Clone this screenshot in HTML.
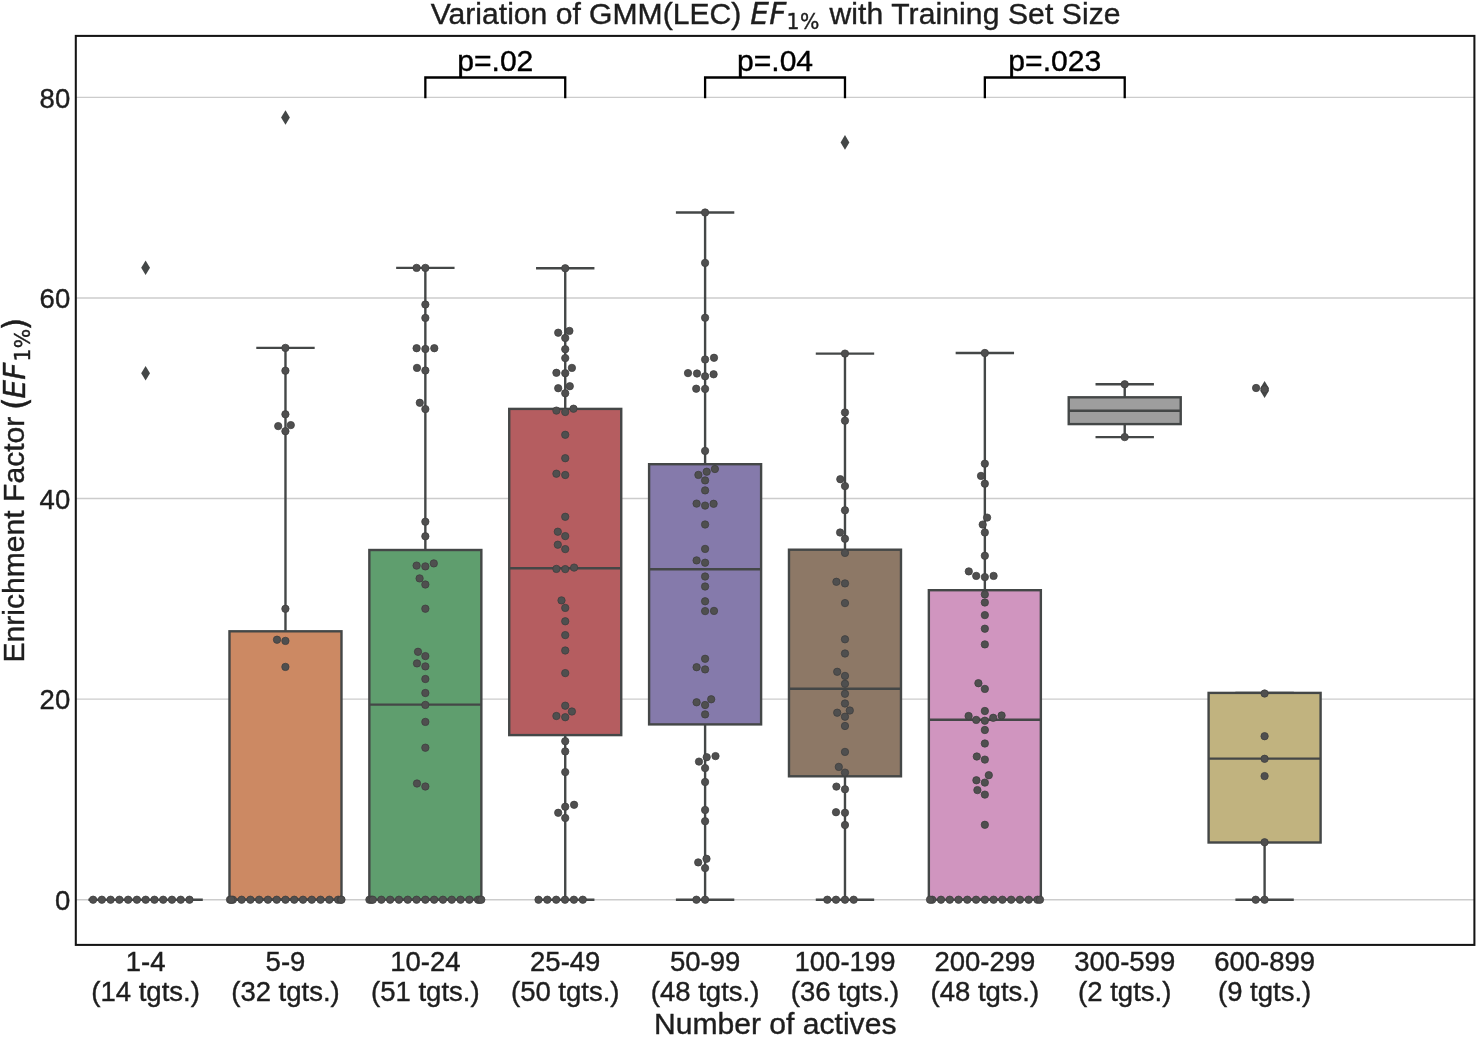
<!DOCTYPE html>
<html lang="en"><head><meta charset="utf-8"><title>Variation of GMM(LEC) EF1% with Training Set Size</title>
<style>html,body{margin:0;padding:0;background:#fff}svg{display:block}text{stroke-width:.4px}</style></head>
<body>
<svg width="1476" height="1037" viewBox="0 0 1476 1037" font-family="'Liberation Sans', sans-serif">
<rect width="1476" height="1037" fill="#fff"/>
<line x1="75.8" x2="1474.4" y1="899.70" y2="899.70" stroke="#cccccc" stroke-width="1.35"/>
<line x1="75.8" x2="1474.4" y1="699.12" y2="699.12" stroke="#cccccc" stroke-width="1.35"/>
<line x1="75.8" x2="1474.4" y1="498.54" y2="498.54" stroke="#cccccc" stroke-width="1.35"/>
<line x1="75.8" x2="1474.4" y1="297.96" y2="297.96" stroke="#cccccc" stroke-width="1.35"/>
<line x1="75.8" x2="1474.4" y1="97.38" y2="97.38" stroke="#cccccc" stroke-width="1.35"/>
<g stroke="#444747" stroke-width="2.4" fill="none">
<line x1="89.60" x2="201.60" y1="899.70" y2="899.70" stroke-linecap="square"/>
<rect x="229.48" y="631.30" width="112" height="268.40" fill="#cc8963" stroke-linejoin="miter"/>
<line x1="285.48" x2="285.48" y1="347.90" y2="631.30"/>
<line x1="257.48" x2="313.48" y1="347.90" y2="347.90" stroke-linecap="square"/>
<line x1="257.48" x2="313.48" y1="899.70" y2="899.70" stroke-linecap="square"/>
<line x1="229.48" x2="341.48" y1="899.70" y2="899.70"/>
<rect x="369.35" y="550.00" width="112" height="349.70" fill="#5f9e6e" stroke-linejoin="miter"/>
<line x1="425.35" x2="425.35" y1="267.90" y2="550.00"/>
<line x1="397.35" x2="453.35" y1="267.90" y2="267.90" stroke-linecap="square"/>
<line x1="397.35" x2="453.35" y1="899.70" y2="899.70" stroke-linecap="square"/>
<line x1="369.35" x2="481.35" y1="704.60" y2="704.60"/>
<rect x="509.23" y="408.90" width="112" height="326.20" fill="#b55d60" stroke-linejoin="miter"/>
<line x1="565.23" x2="565.23" y1="268.30" y2="408.90"/>
<line x1="565.23" x2="565.23" y1="735.10" y2="899.70"/>
<line x1="537.23" x2="593.23" y1="268.30" y2="268.30" stroke-linecap="square"/>
<line x1="537.23" x2="593.23" y1="899.70" y2="899.70" stroke-linecap="square"/>
<line x1="509.23" x2="621.23" y1="568.30" y2="568.30"/>
<rect x="649.10" y="464.20" width="112" height="260.20" fill="#857aab" stroke-linejoin="miter"/>
<line x1="705.10" x2="705.10" y1="212.50" y2="464.20"/>
<line x1="705.10" x2="705.10" y1="724.40" y2="899.70"/>
<line x1="677.10" x2="733.10" y1="212.50" y2="212.50" stroke-linecap="square"/>
<line x1="677.10" x2="733.10" y1="899.70" y2="899.70" stroke-linecap="square"/>
<line x1="649.10" x2="761.10" y1="569.20" y2="569.20"/>
<rect x="788.98" y="549.70" width="112" height="226.60" fill="#8d7866" stroke-linejoin="miter"/>
<line x1="844.98" x2="844.98" y1="353.60" y2="549.70"/>
<line x1="844.98" x2="844.98" y1="776.30" y2="899.70"/>
<line x1="816.98" x2="872.98" y1="353.60" y2="353.60" stroke-linecap="square"/>
<line x1="816.98" x2="872.98" y1="899.70" y2="899.70" stroke-linecap="square"/>
<line x1="788.98" x2="900.98" y1="688.70" y2="688.70"/>
<rect x="928.85" y="590.20" width="112" height="309.50" fill="#d095bf" stroke-linejoin="miter"/>
<line x1="984.85" x2="984.85" y1="353.00" y2="590.20"/>
<line x1="956.85" x2="1012.85" y1="353.00" y2="353.00" stroke-linecap="square"/>
<line x1="956.85" x2="1012.85" y1="899.70" y2="899.70" stroke-linecap="square"/>
<line x1="928.85" x2="1040.85" y1="719.80" y2="719.80"/>
<rect x="1068.72" y="397.30" width="112" height="26.80" fill="#9e9e9e" stroke-linejoin="miter"/>
<line x1="1124.72" x2="1124.72" y1="384.30" y2="397.30"/>
<line x1="1124.72" x2="1124.72" y1="424.10" y2="437.10"/>
<line x1="1096.72" x2="1152.72" y1="384.30" y2="384.30" stroke-linecap="square"/>
<line x1="1096.72" x2="1152.72" y1="437.10" y2="437.10" stroke-linecap="square"/>
<line x1="1068.72" x2="1180.72" y1="410.70" y2="410.70"/>
<rect x="1208.60" y="692.90" width="112" height="149.60" fill="#c1b37f" stroke-linejoin="miter"/>
<line x1="1264.60" x2="1264.60" y1="842.50" y2="899.70"/>
<line x1="1236.60" x2="1292.60" y1="692.90" y2="692.90" stroke-linecap="square"/>
<line x1="1236.60" x2="1292.60" y1="899.70" y2="899.70" stroke-linecap="square"/>
<line x1="1208.60" x2="1320.60" y1="758.60" y2="758.60"/>
</g>
<g fill="#444747">
<path d="M145.60 260.50L150.00 267.80L145.60 275.10L141.20 267.80Z"/>
<path d="M145.60 366.00L150.00 373.30L145.60 380.60L141.20 373.30Z"/>
<path d="M285.48 110.20L289.88 117.50L285.48 124.80L281.08 117.50Z"/>
<path d="M844.98 135.10L849.38 142.40L844.98 149.70L840.58 142.40Z"/>
<path d="M1264.60 380.90L1269.00 388.20L1264.60 395.50L1260.20 388.20Z"/>
<path d="M1264.60 383.40L1269.00 390.70L1264.60 398.00L1260.20 390.70Z"/>
</g>
<g fill="#4f4f4f" stroke="#3e3e3e" stroke-width="0.75">
<circle cx="93.10" cy="899.70" r="3.68"/>
<circle cx="101.86" cy="899.70" r="3.68"/>
<circle cx="110.63" cy="899.70" r="3.68"/>
<circle cx="119.39" cy="899.70" r="3.68"/>
<circle cx="128.15" cy="899.70" r="3.68"/>
<circle cx="136.91" cy="899.70" r="3.68"/>
<circle cx="145.68" cy="899.70" r="3.68"/>
<circle cx="154.44" cy="899.70" r="3.68"/>
<circle cx="163.20" cy="899.70" r="3.68"/>
<circle cx="171.97" cy="899.70" r="3.68"/>
<circle cx="180.73" cy="899.70" r="3.68"/>
<circle cx="189.49" cy="899.70" r="3.68"/>
<circle cx="232.86" cy="899.70" r="3.68"/>
<circle cx="241.63" cy="899.70" r="3.68"/>
<circle cx="250.40" cy="899.70" r="3.68"/>
<circle cx="259.17" cy="899.70" r="3.68"/>
<circle cx="267.94" cy="899.70" r="3.68"/>
<circle cx="276.71" cy="899.70" r="3.68"/>
<circle cx="285.48" cy="899.70" r="3.68"/>
<circle cx="294.25" cy="899.70" r="3.68"/>
<circle cx="303.02" cy="899.70" r="3.68"/>
<circle cx="311.79" cy="899.70" r="3.68"/>
<circle cx="320.56" cy="899.70" r="3.68"/>
<circle cx="329.33" cy="899.70" r="3.68"/>
<circle cx="338.10" cy="899.70" r="3.68"/>
<circle cx="230.00" cy="899.70" r="3.68"/>
<circle cx="231.30" cy="899.70" r="3.68"/>
<circle cx="340.70" cy="899.70" r="3.68"/>
<circle cx="341.50" cy="899.70" r="3.68"/>
<circle cx="285.40" cy="347.90" r="3.68"/>
<circle cx="285.40" cy="370.70" r="3.68"/>
<circle cx="285.40" cy="414.30" r="3.68"/>
<circle cx="278.20" cy="426.10" r="3.68"/>
<circle cx="290.80" cy="425.10" r="3.68"/>
<circle cx="285.40" cy="431.20" r="3.68"/>
<circle cx="285.40" cy="608.80" r="3.68"/>
<circle cx="277.00" cy="639.70" r="3.68"/>
<circle cx="285.40" cy="640.90" r="3.68"/>
<circle cx="285.40" cy="666.90" r="3.68"/>
<circle cx="381.35" cy="899.70" r="3.68"/>
<circle cx="390.15" cy="899.70" r="3.68"/>
<circle cx="398.95" cy="899.70" r="3.68"/>
<circle cx="407.75" cy="899.70" r="3.68"/>
<circle cx="416.55" cy="899.70" r="3.68"/>
<circle cx="425.35" cy="899.70" r="3.68"/>
<circle cx="434.15" cy="899.70" r="3.68"/>
<circle cx="442.95" cy="899.70" r="3.68"/>
<circle cx="451.75" cy="899.70" r="3.68"/>
<circle cx="460.55" cy="899.70" r="3.68"/>
<circle cx="469.35" cy="899.70" r="3.68"/>
<circle cx="369.40" cy="899.70" r="3.68"/>
<circle cx="371.30" cy="899.70" r="3.68"/>
<circle cx="372.80" cy="899.70" r="3.68"/>
<circle cx="478.00" cy="899.70" r="3.68"/>
<circle cx="479.60" cy="899.70" r="3.68"/>
<circle cx="481.30" cy="899.70" r="3.68"/>
<circle cx="416.60" cy="267.90" r="3.68"/>
<circle cx="425.35" cy="267.90" r="3.68"/>
<circle cx="425.35" cy="304.50" r="3.68"/>
<circle cx="425.35" cy="317.90" r="3.68"/>
<circle cx="416.60" cy="348.20" r="3.68"/>
<circle cx="425.35" cy="349.00" r="3.68"/>
<circle cx="434.30" cy="348.20" r="3.68"/>
<circle cx="417.00" cy="367.90" r="3.68"/>
<circle cx="425.35" cy="370.50" r="3.68"/>
<circle cx="419.80" cy="402.80" r="3.68"/>
<circle cx="425.35" cy="409.10" r="3.68"/>
<circle cx="425.35" cy="521.70" r="3.68"/>
<circle cx="425.35" cy="536.30" r="3.68"/>
<circle cx="416.60" cy="565.60" r="3.68"/>
<circle cx="425.35" cy="566.40" r="3.68"/>
<circle cx="433.80" cy="563.40" r="3.68"/>
<circle cx="419.60" cy="578.40" r="3.68"/>
<circle cx="425.35" cy="584.50" r="3.68"/>
<circle cx="425.35" cy="608.70" r="3.68"/>
<circle cx="418.00" cy="651.80" r="3.68"/>
<circle cx="425.35" cy="656.10" r="3.68"/>
<circle cx="417.00" cy="663.40" r="3.68"/>
<circle cx="425.35" cy="666.40" r="3.68"/>
<circle cx="425.35" cy="679.00" r="3.68"/>
<circle cx="425.35" cy="693.00" r="3.68"/>
<circle cx="425.35" cy="704.90" r="3.68"/>
<circle cx="425.35" cy="721.90" r="3.68"/>
<circle cx="425.35" cy="747.70" r="3.68"/>
<circle cx="417.00" cy="783.50" r="3.68"/>
<circle cx="425.35" cy="786.50" r="3.68"/>
<circle cx="538.50" cy="899.70" r="3.68"/>
<circle cx="547.30" cy="899.70" r="3.68"/>
<circle cx="556.20" cy="899.70" r="3.68"/>
<circle cx="565.00" cy="899.70" r="3.68"/>
<circle cx="573.90" cy="899.70" r="3.68"/>
<circle cx="582.80" cy="899.70" r="3.68"/>
<circle cx="565.23" cy="268.30" r="3.68"/>
<circle cx="558.20" cy="332.70" r="3.68"/>
<circle cx="569.40" cy="330.90" r="3.68"/>
<circle cx="565.23" cy="338.00" r="3.68"/>
<circle cx="565.23" cy="349.20" r="3.68"/>
<circle cx="565.23" cy="358.10" r="3.68"/>
<circle cx="571.90" cy="367.90" r="3.68"/>
<circle cx="556.40" cy="372.80" r="3.68"/>
<circle cx="565.23" cy="373.20" r="3.68"/>
<circle cx="558.20" cy="388.20" r="3.68"/>
<circle cx="569.80" cy="386.20" r="3.68"/>
<circle cx="565.23" cy="393.30" r="3.68"/>
<circle cx="556.40" cy="410.60" r="3.68"/>
<circle cx="565.23" cy="412.00" r="3.68"/>
<circle cx="573.50" cy="408.70" r="3.68"/>
<circle cx="565.23" cy="434.80" r="3.68"/>
<circle cx="565.23" cy="458.20" r="3.68"/>
<circle cx="556.40" cy="473.70" r="3.68"/>
<circle cx="565.23" cy="475.00" r="3.68"/>
<circle cx="565.23" cy="516.80" r="3.68"/>
<circle cx="557.80" cy="531.70" r="3.68"/>
<circle cx="565.23" cy="536.10" r="3.68"/>
<circle cx="557.80" cy="544.70" r="3.68"/>
<circle cx="565.23" cy="549.10" r="3.68"/>
<circle cx="556.40" cy="568.90" r="3.68"/>
<circle cx="565.23" cy="569.10" r="3.68"/>
<circle cx="574.10" cy="567.60" r="3.68"/>
<circle cx="561.50" cy="600.40" r="3.68"/>
<circle cx="565.23" cy="607.90" r="3.68"/>
<circle cx="565.23" cy="621.30" r="3.68"/>
<circle cx="565.23" cy="635.10" r="3.68"/>
<circle cx="565.23" cy="650.50" r="3.68"/>
<circle cx="565.23" cy="673.10" r="3.68"/>
<circle cx="565.23" cy="705.70" r="3.68"/>
<circle cx="571.90" cy="711.50" r="3.68"/>
<circle cx="556.40" cy="716.00" r="3.68"/>
<circle cx="565.23" cy="717.20" r="3.68"/>
<circle cx="565.23" cy="741.20" r="3.68"/>
<circle cx="565.23" cy="751.40" r="3.68"/>
<circle cx="565.23" cy="772.10" r="3.68"/>
<circle cx="565.23" cy="806.70" r="3.68"/>
<circle cx="574.10" cy="804.80" r="3.68"/>
<circle cx="558.20" cy="812.80" r="3.68"/>
<circle cx="565.23" cy="818.00" r="3.68"/>
<circle cx="705.10" cy="212.50" r="3.68"/>
<circle cx="705.10" cy="262.90" r="3.68"/>
<circle cx="705.10" cy="317.80" r="3.68"/>
<circle cx="705.10" cy="359.50" r="3.68"/>
<circle cx="714.00" cy="357.80" r="3.68"/>
<circle cx="688.00" cy="373.10" r="3.68"/>
<circle cx="697.00" cy="373.50" r="3.68"/>
<circle cx="705.10" cy="376.30" r="3.68"/>
<circle cx="713.60" cy="374.30" r="3.68"/>
<circle cx="696.20" cy="388.70" r="3.68"/>
<circle cx="705.10" cy="388.90" r="3.68"/>
<circle cx="705.10" cy="450.90" r="3.68"/>
<circle cx="714.90" cy="469.00" r="3.68"/>
<circle cx="706.70" cy="471.70" r="3.68"/>
<circle cx="698.40" cy="474.90" r="3.68"/>
<circle cx="705.10" cy="480.40" r="3.68"/>
<circle cx="705.10" cy="490.40" r="3.68"/>
<circle cx="696.60" cy="503.60" r="3.68"/>
<circle cx="705.10" cy="505.60" r="3.68"/>
<circle cx="713.60" cy="503.80" r="3.68"/>
<circle cx="705.10" cy="524.50" r="3.68"/>
<circle cx="705.10" cy="548.90" r="3.68"/>
<circle cx="696.60" cy="560.40" r="3.68"/>
<circle cx="705.10" cy="562.70" r="3.68"/>
<circle cx="705.10" cy="576.50" r="3.68"/>
<circle cx="705.10" cy="586.50" r="3.68"/>
<circle cx="705.10" cy="601.30" r="3.68"/>
<circle cx="705.10" cy="611.10" r="3.68"/>
<circle cx="714.00" cy="610.90" r="3.68"/>
<circle cx="705.10" cy="658.80" r="3.68"/>
<circle cx="696.60" cy="667.20" r="3.68"/>
<circle cx="705.10" cy="669.40" r="3.68"/>
<circle cx="711.20" cy="699.30" r="3.68"/>
<circle cx="696.60" cy="702.30" r="3.68"/>
<circle cx="705.10" cy="705.00" r="3.68"/>
<circle cx="705.10" cy="714.40" r="3.68"/>
<circle cx="706.70" cy="757.20" r="3.68"/>
<circle cx="715.50" cy="756.10" r="3.68"/>
<circle cx="699.00" cy="761.60" r="3.68"/>
<circle cx="705.10" cy="768.10" r="3.68"/>
<circle cx="705.10" cy="782.00" r="3.68"/>
<circle cx="705.10" cy="810.00" r="3.68"/>
<circle cx="705.10" cy="821.20" r="3.68"/>
<circle cx="706.50" cy="858.80" r="3.68"/>
<circle cx="698.20" cy="862.40" r="3.68"/>
<circle cx="705.10" cy="868.10" r="3.68"/>
<circle cx="696.40" cy="899.70" r="3.68"/>
<circle cx="705.10" cy="899.70" r="3.68"/>
<circle cx="844.98" cy="353.60" r="3.68"/>
<circle cx="844.98" cy="412.50" r="3.68"/>
<circle cx="844.98" cy="420.70" r="3.68"/>
<circle cx="840.30" cy="479.20" r="3.68"/>
<circle cx="844.98" cy="486.10" r="3.68"/>
<circle cx="844.98" cy="510.30" r="3.68"/>
<circle cx="840.10" cy="532.50" r="3.68"/>
<circle cx="844.98" cy="538.80" r="3.68"/>
<circle cx="844.98" cy="552.90" r="3.68"/>
<circle cx="836.40" cy="581.80" r="3.68"/>
<circle cx="844.98" cy="583.40" r="3.68"/>
<circle cx="844.98" cy="603.10" r="3.68"/>
<circle cx="844.98" cy="639.30" r="3.68"/>
<circle cx="844.98" cy="653.50" r="3.68"/>
<circle cx="837.20" cy="671.80" r="3.68"/>
<circle cx="844.98" cy="675.90" r="3.68"/>
<circle cx="844.98" cy="683.80" r="3.68"/>
<circle cx="844.98" cy="693.80" r="3.68"/>
<circle cx="844.98" cy="703.50" r="3.68"/>
<circle cx="849.80" cy="710.50" r="3.68"/>
<circle cx="837.20" cy="712.70" r="3.68"/>
<circle cx="844.98" cy="716.70" r="3.68"/>
<circle cx="844.98" cy="726.00" r="3.68"/>
<circle cx="844.98" cy="751.90" r="3.68"/>
<circle cx="838.80" cy="766.90" r="3.68"/>
<circle cx="844.98" cy="772.60" r="3.68"/>
<circle cx="836.40" cy="786.60" r="3.68"/>
<circle cx="844.98" cy="789.30" r="3.68"/>
<circle cx="836.00" cy="812.20" r="3.68"/>
<circle cx="844.98" cy="812.80" r="3.68"/>
<circle cx="844.98" cy="825.00" r="3.68"/>
<circle cx="827.30" cy="899.70" r="3.68"/>
<circle cx="836.00" cy="899.70" r="3.68"/>
<circle cx="844.98" cy="899.70" r="3.68"/>
<circle cx="853.70" cy="899.70" r="3.68"/>
<circle cx="932.23" cy="899.70" r="3.68"/>
<circle cx="941.00" cy="899.70" r="3.68"/>
<circle cx="949.77" cy="899.70" r="3.68"/>
<circle cx="958.54" cy="899.70" r="3.68"/>
<circle cx="967.31" cy="899.70" r="3.68"/>
<circle cx="976.08" cy="899.70" r="3.68"/>
<circle cx="984.85" cy="899.70" r="3.68"/>
<circle cx="993.62" cy="899.70" r="3.68"/>
<circle cx="1002.39" cy="899.70" r="3.68"/>
<circle cx="1011.16" cy="899.70" r="3.68"/>
<circle cx="1019.93" cy="899.70" r="3.68"/>
<circle cx="1028.70" cy="899.70" r="3.68"/>
<circle cx="1037.47" cy="899.70" r="3.68"/>
<circle cx="930.00" cy="899.70" r="3.68"/>
<circle cx="1040.00" cy="899.70" r="3.68"/>
<circle cx="984.85" cy="353.00" r="3.68"/>
<circle cx="984.85" cy="463.70" r="3.68"/>
<circle cx="981.00" cy="475.90" r="3.68"/>
<circle cx="984.85" cy="483.70" r="3.68"/>
<circle cx="987.10" cy="517.60" r="3.68"/>
<circle cx="982.70" cy="524.60" r="3.68"/>
<circle cx="984.85" cy="532.50" r="3.68"/>
<circle cx="984.85" cy="555.80" r="3.68"/>
<circle cx="968.80" cy="571.40" r="3.68"/>
<circle cx="976.20" cy="575.90" r="3.68"/>
<circle cx="984.85" cy="577.10" r="3.68"/>
<circle cx="993.60" cy="575.90" r="3.68"/>
<circle cx="984.85" cy="594.40" r="3.68"/>
<circle cx="984.85" cy="602.50" r="3.68"/>
<circle cx="984.85" cy="615.10" r="3.68"/>
<circle cx="984.85" cy="628.70" r="3.68"/>
<circle cx="984.85" cy="644.40" r="3.68"/>
<circle cx="978.40" cy="683.20" r="3.68"/>
<circle cx="984.85" cy="688.90" r="3.68"/>
<circle cx="984.85" cy="711.00" r="3.68"/>
<circle cx="968.60" cy="716.00" r="3.68"/>
<circle cx="976.20" cy="719.90" r="3.68"/>
<circle cx="984.85" cy="720.70" r="3.68"/>
<circle cx="993.20" cy="717.80" r="3.68"/>
<circle cx="1001.60" cy="715.50" r="3.68"/>
<circle cx="984.85" cy="730.00" r="3.68"/>
<circle cx="984.85" cy="743.50" r="3.68"/>
<circle cx="976.80" cy="756.50" r="3.68"/>
<circle cx="984.85" cy="759.60" r="3.68"/>
<circle cx="988.80" cy="775.20" r="3.68"/>
<circle cx="976.40" cy="780.30" r="3.68"/>
<circle cx="984.85" cy="782.60" r="3.68"/>
<circle cx="977.40" cy="790.10" r="3.68"/>
<circle cx="984.85" cy="794.60" r="3.68"/>
<circle cx="984.85" cy="824.80" r="3.68"/>
<circle cx="1124.72" cy="384.30" r="3.68"/>
<circle cx="1124.72" cy="437.10" r="3.68"/>
<circle cx="1256.10" cy="388.00" r="3.68"/>
<circle cx="1264.60" cy="389.30" r="3.68"/>
<circle cx="1264.60" cy="693.50" r="3.68"/>
<circle cx="1264.60" cy="736.20" r="3.68"/>
<circle cx="1264.60" cy="758.80" r="3.68"/>
<circle cx="1264.60" cy="776.10" r="3.68"/>
<circle cx="1264.60" cy="842.30" r="3.68"/>
<circle cx="1255.70" cy="899.70" r="3.68"/>
<circle cx="1264.60" cy="899.70" r="3.68"/>
</g>
<rect x="75.8" y="35.9" width="1398.6000000000001" height="909.0" fill="none" stroke="#141414" stroke-width="2.05"/>
<g stroke="#000" stroke-width="2.3" fill="none" stroke-linejoin="miter">
<path d="M425.35 98.2V77.5H565.23V98.2"/>
<path d="M705.10 98.2V77.5H844.98V98.2"/>
<path d="M984.85 98.2V77.5H1124.72V98.2"/>
</g>
<g font-size="30.1" fill="#000" stroke="#000" text-anchor="middle">
<text x="495.29" y="71.1">p=.02</text>
<text x="775.04" y="71.1">p=.04</text>
<text x="1054.79" y="71.1">p=.023</text>
</g>
<g font-size="27.5" fill="#1e1e1e" stroke="#1e1e1e" text-anchor="end">
<text x="70.2" y="910.00">0</text>
<text x="70.2" y="709.42">20</text>
<text x="70.2" y="508.84">40</text>
<text x="70.2" y="308.26">60</text>
<text x="70.2" y="107.68">80</text>
</g>
<g font-size="27.5" fill="#1e1e1e" stroke="#1e1e1e" text-anchor="middle">
<text x="145.60" y="970.5">1-4</text><text x="145.60" y="1000.5">(14 tgts.)</text>
<text x="285.48" y="970.5">5-9</text><text x="285.48" y="1000.5">(32 tgts.)</text>
<text x="425.35" y="970.5">10-24</text><text x="425.35" y="1000.5">(51 tgts.)</text>
<text x="565.23" y="970.5">25-49</text><text x="565.23" y="1000.5">(50 tgts.)</text>
<text x="705.10" y="970.5">50-99</text><text x="705.10" y="1000.5">(48 tgts.)</text>
<text x="844.98" y="970.5">100-199</text><text x="844.98" y="1000.5">(36 tgts.)</text>
<text x="984.85" y="970.5">200-299</text><text x="984.85" y="1000.5">(48 tgts.)</text>
<text x="1124.72" y="970.5">300-599</text><text x="1124.72" y="1000.5">(2 tgts.)</text>
<text x="1264.60" y="970.5">600-899</text><text x="1264.60" y="1000.5">(9 tgts.)</text>
</g>
<text x="775.2" y="1033.6" font-size="30.1" fill="#1e1e1e" stroke="#1e1e1e" text-anchor="middle">Number of actives</text>
<g font-size="30.1" fill="#1e1e1e" stroke="#1e1e1e"><text x="430.75" y="24.2">Variation of GMM(LEC)</text><text x="750.2" y="24.2" font-family="'DejaVu Sans', sans-serif" font-size="29.5" font-style="oblique" stroke-width="0.25" letter-spacing="0.3">EF</text><text x="786.6" y="29.0" font-family="'DejaVu Sans', sans-serif" font-size="20.4" stroke-width="0.25" letter-spacing="0.45">1%</text><text x="829.5" y="24.2" letter-spacing="0.08">with Training Set Size</text></g>
<g transform="translate(24.3 662) rotate(-90)" font-size="30.1" fill="#1e1e1e" stroke="#1e1e1e"><text x="-0.55" y="0">Enrichment Factor</text><text x="251.9" y="2.7" font-family="'DejaVu Sans', sans-serif" font-size="32.8" stroke-width="0.3">(</text><text x="263.4" y="0.5" font-family="'DejaVu Sans', sans-serif" font-size="29.5" font-style="oblique" stroke-width="0.25" letter-spacing="0.3">EF</text><text x="300.4" y="5.4" font-family="'DejaVu Sans', sans-serif" font-size="20.4" stroke-width="0.25" letter-spacing="0.45">1%</text><text x="331.5" y="2.7" font-family="'DejaVu Sans', sans-serif" font-size="32.8" stroke-width="0.3">)</text></g>
</svg>
</body></html>
